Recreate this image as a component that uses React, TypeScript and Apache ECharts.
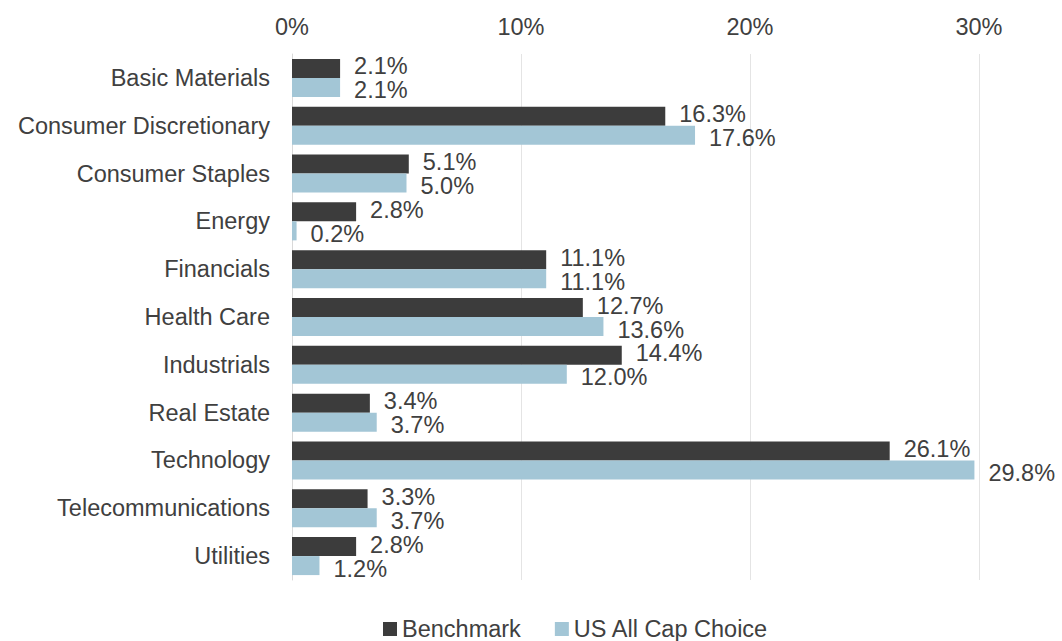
import React, { useEffect, useRef } from "react";
import * as echarts from "echarts";

const categories = [
  "Basic Materials",
  "Consumer Discretionary",
  "Consumer Staples",
  "Energy",
  "Financials",
  "Health Care",
  "Industrials",
  "Real Estate",
  "Technology",
  "Telecommunications",
  "Utilities",
];
const benchmark = [2.1, 16.3, 5.1, 2.8, 11.1, 12.7, 14.4, 3.4, 26.1, 3.3, 2.8];
const usAllCap = [2.1, 17.6, 5.0, 0.2, 11.1, 13.6, 12.0, 3.7, 29.8, 3.7, 1.2];
const seriesNames = ["Benchmark", "US All Cap Choice"];

const FONT = "'Liberation Sans', Arial, sans-serif";
const TEXT = "#404040";
const FS = 23.5;

export default function App() {
  const ref = useRef<HTMLDivElement>(null);
  useEffect(() => {
    if (!ref.current) return;
    const chart = echarts.init(ref.current, null, { renderer: "svg" });
    const label = (offsetY: number) => ({
      show: true,
      position: "right",
      distance: 14,
      offset: [0, offsetY],
      color: TEXT,
      fontFamily: FONT,
      fontSize: FS,
      lineHeight: 20,
      formatter: (p: any) => Number(p.value).toFixed(1) + "%",
    });
    chart.setOption({
      animation: false,
      textStyle: { fontFamily: FONT, color: TEXT },
      grid: { left: 292, right: 83, top: 54, bottom: 61, containLabel: false },
      legend: {
        data: seriesNames,
        top: 612,
        left: 378,
        icon: "rect",
        itemWidth: 14,
        itemHeight: 14,
        itemGap: 34,
        textStyle: { color: TEXT, fontFamily: FONT, fontSize: FS, lineHeight: 22 },
      },
      xAxis: {
        type: "value",
        position: "top",
        min: 0,
        max: 30,
        interval: 10,
        axisLine: { show: false },
        axisTick: { show: false },
        splitLine: { show: true, lineStyle: { color: "#e4e4e4", width: 1 } },
        axisLabel: {
          formatter: "{value}%",
          color: TEXT,
          fontFamily: FONT,
          fontSize: FS,
          margin: 15,
        },
      },
      yAxis: {
        type: "category",
        data: categories,
        inverse: true,
        axisLine: { show: true, lineStyle: { color: "#d9d9d9", width: 1 } },
        axisTick: { show: false },
        axisLabel: {
          color: TEXT,
          fontFamily: FONT,
          fontSize: FS,
          margin: 22,
        },
      },
      series: [
        {
          name: seriesNames[0],
          type: "bar",
          data: benchmark,
          barWidth: 19,
          barGap: "0%",
          itemStyle: { color: "#3c3c3c" },
          label: label(-2),
        },
        {
          name: seriesNames[1],
          type: "bar",
          data: usAllCap,
          barWidth: 19,
          barGap: "0%",
          itemStyle: { color: "#a3c6d6" },
          label: label(3),
        },
      ],
    });
    return () => chart.dispose();
  }, []);
  return (
    <div
      ref={ref}
      style={{ position: "fixed", left: 0, top: 0, width: 1062, height: 641, background: "#fff" }}
    />
  );
}
